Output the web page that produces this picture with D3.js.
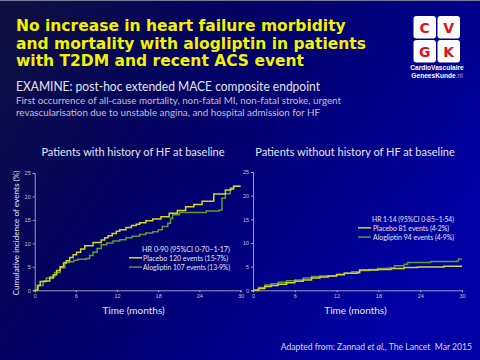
<!DOCTYPE html>
<html><head><meta charset="utf-8">
<script src="https://cdn.jsdelivr.net/npm/d3@7"></script>
<style>html,body{margin:0;padding:0;background:#000060;}svg{display:block;}</style>
</head><body>
<script>
// ---------- DATA ----------
const xTicks = [0, 6, 12, 18, 24, 30];
const yTicks = [0, 5, 10, 15, 20, 25];

// Patients with history of HF (months, cumulative %)
const hfPlaceboT = [0,0.4,0.8,1.7,2.2,2.7,3.2,3.7,4.2,4.6,5.1,5.6,6.1,6.7,7.3,8.5,9.7,10.2,10.7,11.3,11.9,12.4,13.3,14.1,14.8,15.3,16.2,17.2,18.4,19.6,20.8,22.0,23.2,24.4,26.1,27.3,27.8,28.6,29.0,30];
const hfPlaceboV = [0,1.0,1.85,2.0,2.6,3.3,4.2,5.0,5.8,6.3,7.0,7.6,8.1,8.8,9.5,10.2,10.7,11.2,11.6,12.1,12.6,12.9,13.4,13.8,14.1,14.4,14.8,15.2,15.7,16.4,17.0,17.8,18.3,19.0,20.5,20.5,21.4,21.6,22.2,22.2];
const hfAlogT = [0,0.5,1.25,1.7,2.2,2.9,3.7,4.4,5.1,5.7,6.3,7.5,8.0,8.5,9.1,9.7,10.5,11.4,12.4,13.3,14.2,15.3,16.2,17.2,18.0,18.6,19.4,19.8,20.1,21.1,23.0,25.0,26.9,27.3,27.8,28.5,29.0,30];
const hfAlogV = [0,1.0,2.0,2.6,2.9,3.8,4.8,5.9,6.1,6.4,6.6,6.8,7.4,8.1,8.9,9.7,10.1,10.5,10.8,11.2,11.5,11.9,12.2,12.5,12.9,13.6,14.3,15.3,16.1,16.6,16.6,16.9,17.1,19.6,20.6,21.8,22.2,22.2];

// Patients without history of HF
const noPlaceboT = [0,0.8,1.7,2.6,3.6,4.8,6.0,7.2,8.4,9.6,10.8,12.0,13.1,15.0,15.3,17.9,19.8,21.7,23.6,26.5,27.4,30];
const noPlaceboV = [0,0.4,0.8,1.0,1.3,1.6,1.9,2.2,2.6,2.8,3.0,3.3,3.6,3.7,4.3,4.4,4.6,4.8,4.9,4.9,5.1,5.1];
const noAlogT = [0,0.8,1.7,2.6,3.6,4.8,6.0,7.2,8.4,9.6,10.8,12.0,13.1,14.2,15.3,16.6,17.9,19.3,20.3,21.7,22.2,25.5,29.3,29.5,30];
const noAlogV = [0,0.6,1.1,1.4,1.7,2.0,2.2,2.6,2.9,3.0,3.1,3.4,3.6,3.9,4.2,4.4,4.6,4.7,5.2,5.5,5.9,6.1,6.2,6.6,6.6];

const titleLines = ["No increase in heart failure morbidity","and mortality with alogliptin in patients","with T2DM and recent ACS event"];
const subTitle = "EXAMINE: post-hoc extended MACE composite endpoint";
const descLines = ["First occurrence of all-cause mortality, non-fatal MI, non-fatal stroke, urgent","revascularisation due to unstable angina, and hospital admission for HF"];
const panelTitles = ["Patients with history of HF at baseline","Patients without history of HF at baseline"];
const hrLabels = ["HR 0·90 (95%CI 0·70–1·17)","HR 1·14 (95%CI 0·85–1·54)"];
const placeboLabels = ["Placebo 120 events (15·7%)","Placebo 81 events (4·2%)"];
const alogLabels = ["Alogliptin 107 events (13·9%)","Alogliptin 94 events (4·9%)"];

// ---------- DRAW ----------
const W = 480, H = 360;
const svg = d3.select("body").append("svg").attr("width", W).attr("height", H);
const defs = svg.append("defs");
const lg = defs.append("linearGradient").attr("id","bg").attr("x1","0").attr("y1","0").attr("x2","1").attr("y2","0.5");
lg.append("stop").attr("offset","0%").attr("stop-color","#10103f");
lg.append("stop").attr("offset","45%").attr("stop-color","#000066");
lg.append("stop").attr("offset","100%").attr("stop-color","#0000a4");
svg.append("rect").attr("width",W).attr("height",H).attr("fill","url(#bg)");
svg.append("line").attr("x1",0).attr("x2",W).attr("y1",0.5).attr("y2",0.5).attr("stroke","#7a7a9a").attr("stroke-width",1);

const YEL = "#d6d61e", GRN = "#5c9a3a", AX = "#c4c4d4", TXT = "#e6e6f0";

// Title
svg.append("g").selectAll("text").data(titleLines).join("text")
  .attr("x",16).attr("y",(d,i)=>31 + i*17.5)
  .attr("font-family","DejaVu Sans").attr("font-weight","bold").attr("font-size",15.5)
  .attr("fill","#f2f200").text(d=>d);

svg.append("text").attr("x",16).attr("y",91).attr("font-family","Lato").attr("font-size",12.5)
  .attr("fill","#e4e4ec").attr("textLength",304).attr("lengthAdjust","spacingAndGlyphs").text(subTitle);
const descLen = [325, 304];
svg.append("g").selectAll("text").data(descLines).join("text")
  .attr("x",16).attr("y",(d,i)=>104 + i*12.3)
  .attr("font-family","Lato").attr("font-size",9.8).attr("fill","#c0c0d4")
  .attr("textLength",(d,i)=>descLen[i]).attr("lengthAdjust","spacingAndGlyphs").text(d=>d);

// Logo
const logo = svg.append("g");
const sq = [[413.5,16,"C"],[437.5,16,"V"],[413.5,40,"G"],[437.5,40,"K"]];
logo.selectAll("rect").data(sq).join("rect").attr("x",d=>d[0]).attr("y",d=>d[1]).attr("width",22.5).attr("height",22.5)
  .attr("rx",3).attr("fill","#ffffff");
logo.selectAll("text.l").data(sq).join("text").attr("class","l").attr("x",d=>d[0]+11.25).attr("y",d=>d[1]+16.5)
  .attr("text-anchor","middle").attr("font-family","DejaVu Sans").attr("font-weight","bold").attr("font-size",14)
  .attr("fill","#e0101e").text(d=>d[2]);
logo.append("text").attr("x",437).attr("y",70).attr("text-anchor","middle").attr("font-family","Liberation Sans")
  .attr("font-weight","bold").attr("font-size",6.6).attr("fill","#ffffff").text("CardioVasculaire");
const gk = logo.append("text").attr("x",437).attr("y",78).attr("text-anchor","middle").attr("font-family","Liberation Sans")
  .attr("font-size",6.6).attr("fill","#ffffff");
gk.append("tspan").attr("font-weight","bold").text("GeneesKunde");
gk.append("tspan").attr("fill","#b0b0d0").text(".nl");

// Panels
const panels = [
  {x0:34.7, x1:240.5, y0:290.3, y1:173, p:[hfPlaceboT,hfPlaceboV], a:[hfAlogT,hfAlogV], idx:0, cx:133,
   leg:{lx0:129, lx1:142, tx:143, y:249}, lens:[88,85,87]},
  {x0:253, x1:462, y0:290.3, y1:172, p:[noPlaceboT,noPlaceboV], a:[noAlogT,noAlogV], idx:1, cx:355,
   leg:{lx0:358, lx1:371, tx:373, y:219}, lens:[82,76,81]}
];

panels.forEach(P => {
  const g = svg.append("g");
  const x = d3.scaleLinear().domain([0,30]).range([P.x0,P.x1]);
  const y = d3.scaleLinear().domain([0,25]).range([P.y0,P.y1]);
  const xa = g.append("g").attr("transform",`translate(0,${P.y0})`)
    .call(d3.axisBottom(x).tickValues(xTicks).tickSize(2).tickPadding(2).tickFormat(d3.format("d")));
  const ya = g.append("g").attr("transform",`translate(${P.x0},0)`)
    .call(d3.axisLeft(y).tickValues(yTicks).tickSize(2).tickPadding(2).tickFormat(d3.format("d")));
  [xa,ya].forEach(a=>{
    a.select(".domain").attr("stroke",AX).attr("stroke-width",0.8);
    a.selectAll(".tick line").attr("stroke",AX).attr("stroke-width",0.8);
    a.selectAll(".tick text").attr("fill",AX).attr("font-family","Liberation Sans").attr("font-size",5.5);
  });
  const line = d3.line().x(d=>x(d[0])).y(d=>y(d[1])).curve(d3.curveStepAfter);
  const pData = d3.zip(P.p[0],P.p[1]);
  const aData = d3.zip(P.a[0],P.a[1]);
  g.append("path").attr("d",line(aData)).attr("fill","none").attr("stroke",GRN).attr("stroke-width",1.5);
  g.append("path").attr("d",line(pData)).attr("fill","none").attr("stroke",YEL).attr("stroke-width",1.5);

  g.append("text").attr("x",P.cx).attr("y",155.5).attr("text-anchor","middle").attr("font-family","Lato")
    .attr("font-size",11).attr("fill",TXT).text(panelTitles[P.idx]);
  g.append("text").attr("x",(P.x0+P.x1)/2+ (P.idx===0?-4:-2)).attr("y",314).attr("text-anchor","middle").attr("font-family","Lato")
    .attr("font-size",10).attr("fill",TXT).text("Time (months)");

  const L = P.leg;
  const fs = 7.2, sp = 9.3;
  g.append("text").attr("x",L.tx-1).attr("y",L.y+2.5).attr("font-family","Lato").attr("font-size",fs).attr("fill",TXT)
    .attr("textLength",P.lens[0]).attr("lengthAdjust","spacingAndGlyphs").text(hrLabels[P.idx]);
  g.append("line").attr("x1",L.lx0).attr("x2",L.lx1).attr("y1",L.y+sp-0.5).attr("y2",L.y+sp-0.5).attr("stroke",YEL).attr("stroke-width",1.5);
  g.append("text").attr("x",L.tx).attr("y",L.y+2.5+sp).attr("font-family","Lato").attr("font-size",fs).attr("fill",TXT)
    .attr("textLength",P.lens[1]).attr("lengthAdjust","spacingAndGlyphs").text(placeboLabels[P.idx]);
  g.append("line").attr("x1",L.lx0).attr("x2",L.lx1).attr("y1",L.y+2*sp-0.5).attr("y2",L.y+2*sp-0.5).attr("stroke",GRN).attr("stroke-width",1.5);
  g.append("text").attr("x",L.tx).attr("y",L.y+2.5+2*sp).attr("font-family","Lato").attr("font-size",fs).attr("fill",TXT)
    .attr("textLength",P.lens[2]).attr("lengthAdjust","spacingAndGlyphs").text(alogLabels[P.idx]);
});

// Y-axis title (left panel only)
svg.append("text").attr("transform","translate(19,233) rotate(-90)").attr("text-anchor","middle")
  .attr("font-family","Lato").attr("font-size",7.8).attr("fill",TXT)
  .attr("textLength",125).attr("lengthAdjust","spacingAndGlyphs").text("Cumulative incidence of events (%)");

// Footer
const ft = svg.append("text").attr("x",472).attr("y",349.5).attr("text-anchor","end").attr("font-family","Lato")
  .attr("font-size",8.6).attr("fill","#d8d8e6");
ft.append("tspan").text("Adapted from: Zannad ");
ft.append("tspan").attr("font-style","italic").text("et al.");
ft.append("tspan").text(", The Lancet\u00a0\u00a0Mar 2015");
</script>
</body></html>
